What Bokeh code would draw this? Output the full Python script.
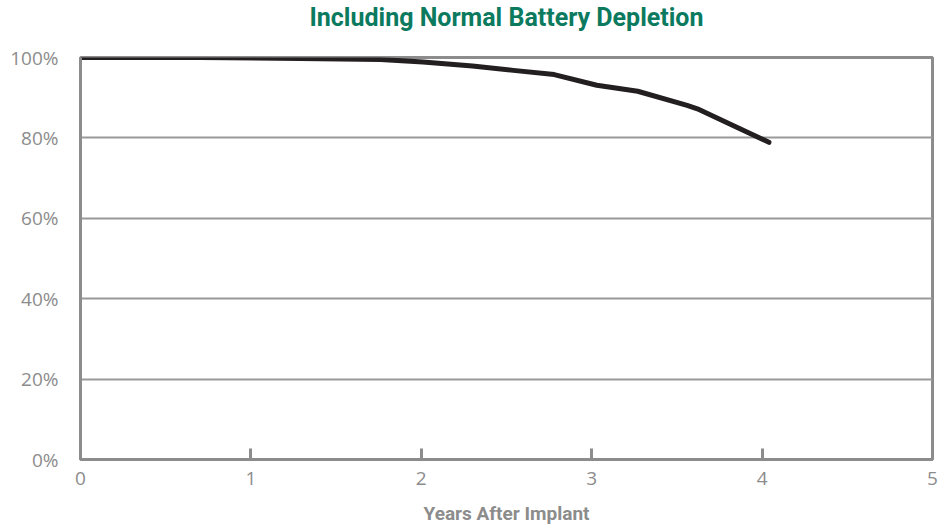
from bokeh.plotting import figure
from bokeh.models import Range1d, FixedTicker, PrintfTickFormatter, Title
from bokeh.embed import file_html
from bokeh.resources import INLINE

years = [0.0, 0.7, 1.29, 1.76, 2.01, 2.3, 2.54, 2.78, 3.03, 3.27, 3.56, 3.62, 3.87, 4.04]
survival = [100.0, 100.0, 99.75, 99.5, 98.9, 97.9, 96.8, 95.75, 93.1, 91.6, 88.1, 87.25, 82.25, 78.9]
x_ticks = [0, 1, 2, 3, 4, 5]
y_ticks = [0, 20, 40, 60, 80, 100]
title_text = "Including Normal Battery Depletion"
x_label = "Years After Implant"

GRAY = "#8c8c8c"
p = figure(width=940, height=527, output_backend="svg", toolbar_location=None,
           x_range=Range1d(0, 5), y_range=Range1d(0, 100),
           min_border_left=80, min_border_right=8, min_border_bottom=2, min_border_top=4)

p.title.text = title_text
p.title.align = "center"
p.title.text_font = "Roboto"
p.title.text_font_style = "bold"
p.title.text_font_size = "25px"
p.title.text_color = "#0b7a5e"
p.title.standoff = 0

# empty spacer between the title and the plot frame
spacer = Title(text=" ", text_font_size="12px", standoff=10)
p.add_layout(spacer, "above")

p.line(years, survival, line_color="#231f20", line_width=5, line_cap="round", line_join="round")

p.xaxis.ticker = FixedTicker(ticks=x_ticks)
p.yaxis.ticker = FixedTicker(ticks=y_ticks)
p.yaxis.formatter = PrintfTickFormatter(format="%d%%")
for ax in (p.xaxis, p.yaxis):
    ax.axis_line_color = GRAY
    ax.axis_line_width = 3
    ax.major_label_text_color = GRAY
    ax.major_label_text_font = "Open Sans"
    ax.major_label_text_font_size = "19px"
    ax.minor_tick_line_color = None
p.xaxis.major_tick_in = 11
p.xaxis.major_tick_out = 0
p.xaxis.major_tick_line_color = GRAY
p.xaxis.major_tick_line_width = 3
p.xaxis.major_label_standoff = 12
p.yaxis.major_tick_line_color = None
p.yaxis.major_label_standoff = 16

p.xaxis.axis_label = x_label
p.xaxis.axis_label_text_font = "Roboto"
p.xaxis.axis_label_text_font_style = "bold"
p.xaxis.axis_label_text_font_size = "19px"
p.xaxis.axis_label_text_color = GRAY
p.xaxis.axis_label_standoff = 14

p.xgrid.grid_line_color = None
p.ygrid.grid_line_color = "#999999"
p.ygrid.grid_line_width = 2
p.outline_line_color = GRAY
p.outline_line_width = 3
p.outline_line_alpha = 1.0

open("out.html", "w").write(file_html(p, INLINE))
